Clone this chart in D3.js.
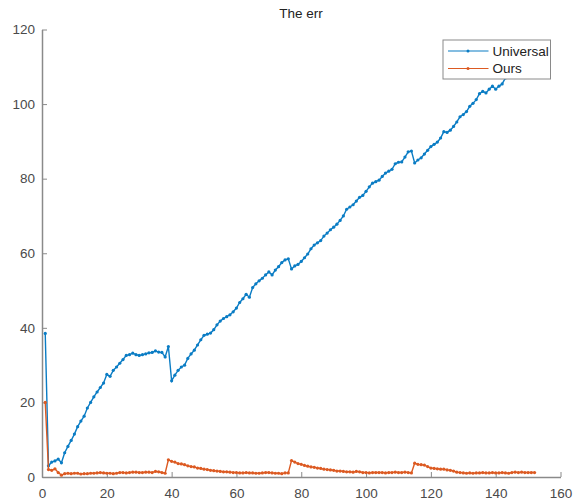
<!DOCTYPE html>
<html>
<head>
  <meta charset="utf-8">
  <title>The err</title>
  <script src="https://cdn.jsdelivr.net/npm/d3@7/dist/d3.min.js"></script>
  <style>
    body { margin: 0; background: #fff; }
    text { font-family: "Liberation Sans", Arial, sans-serif; }
  </style>
</head>
<body>
  <div id="chart"></div>
  <script>
    // values, x = 1..152
    const universal = [
      38.5, 3.0, 4.0, 4.3, 4.8, 3.8, 6.5, 8.2, 9.8, 11.5,
      13.5, 15.0, 16.3, 18.5, 20.0, 21.5, 22.8, 24.0, 25.2, 27.5,
      27.0, 28.6, 29.5, 30.5, 31.5, 32.6, 32.8, 33.2, 32.8, 32.6,
      32.8, 33.0, 33.3, 33.4, 33.8, 33.5, 33.4, 32.2, 35.0, 25.8,
      27.3, 28.6, 29.5, 30.0, 31.8, 33.0, 34.0, 35.4, 36.8, 38.0,
      38.3, 38.6, 39.5, 40.8, 41.8, 42.5, 43.0, 43.5, 44.3, 45.3,
      46.8, 47.8, 49.0, 48.2, 50.8, 51.8, 52.6, 53.3, 54.2, 55.0,
      54.2, 55.5, 56.4, 57.5, 58.2, 58.5, 55.8, 56.6, 57.0, 57.8,
      58.8, 59.8, 61.2, 62.2, 62.8, 63.4, 64.6, 65.4, 66.3, 67.0,
      67.8, 68.8, 70.0, 71.8, 72.4, 73.0, 74.0, 75.0, 75.5, 76.6,
      77.8, 78.8, 79.2, 79.6, 80.6, 81.5, 82.0, 82.5, 84.0, 84.4,
      84.5, 85.8, 87.2, 87.4, 84.2, 85.0, 85.6, 86.6, 87.6, 88.6,
      89.2, 89.8, 90.9, 92.6, 92.4, 93.0, 94.0, 95.2, 96.6, 97.2,
      98.0, 99.4, 100.2, 101.2, 102.8, 103.4, 103.0, 104.0, 104.8, 104.0,
      104.8, 105.4, 107.0, 107.8, 108.5, 109.0, 110.0, 110.8, 111.4, 112.2,
      113.0, 113.6
    ];
    const ours = [
      20.0, 2.0, 1.8, 2.2, 1.2, 0.5, 0.9, 1.0, 0.9, 1.0,
      1.0, 0.8, 0.9, 0.9, 1.0, 1.0, 1.1, 1.2, 1.1, 1.0,
      1.0, 0.9, 1.0, 1.2, 1.2, 1.1, 1.2, 1.3, 1.3, 1.2,
      1.2, 1.3, 1.3, 1.2, 1.5, 1.4, 1.2, 1.0, 4.6, 4.2,
      4.0, 3.6, 3.5, 3.3, 3.0, 2.8, 2.7, 2.4, 2.3, 2.1,
      2.0, 1.8, 1.7, 1.6, 1.5, 1.4, 1.4, 1.3, 1.2, 1.2,
      1.1, 1.1, 1.2, 1.1, 1.1, 1.0, 1.0, 1.1, 1.2, 1.2,
      1.1, 1.0, 1.0, 0.9, 1.1, 1.1, 4.4, 4.0, 3.6, 3.4,
      3.1, 2.9, 2.7, 2.6, 2.4, 2.3, 2.1, 2.0, 1.9, 1.8,
      1.6, 1.6, 1.5, 1.4, 1.4, 1.3, 1.5, 1.4, 1.2, 1.2,
      1.1, 1.2, 1.2, 1.2, 1.2, 1.1, 1.2, 1.2, 1.3, 1.2,
      1.2, 1.3, 1.2, 1.1, 3.7, 3.4, 3.3, 3.2, 2.8, 2.4,
      2.3, 2.2, 2.1, 2.1, 1.9, 1.8, 1.6, 1.3, 1.2, 1.1,
      1.0, 1.1, 1.0, 1.1, 1.1, 1.2, 1.1, 1.1, 1.2, 1.1,
      1.1, 1.2, 1.1, 1.0, 1.2, 1.3, 1.2, 1.3, 1.2, 1.2,
      1.2, 1.2
    ];
    const seriesNames = ['Universal', 'Ours'];
    const xTicks = [0, 20, 40, 60, 80, 100, 120, 140, 160];
    const yTicks = [0, 20, 40, 60, 80, 100, 120];

    const width = 582, height = 501;
    const colors = ['#0a7cc4', '#dc5a22'];

    const svg = d3.select('#chart').append('svg')
      .attr('width', width)
      .attr('height', height);

    const x = d3.scaleLinear().domain([0, 160]).range([42, 560.5]);
    const y = d3.scaleLinear().domain([0, 120]).range([477, 29.5]);

    // title
    svg.append('text')
      .attr('x', 301).attr('y', 18)
      .attr('text-anchor', 'middle')
      .style('font-size', '13.5px')
      .style('fill', '#222')
      .text('The err');

    // axes, ticks inside like matlab
    const xAxis = svg.append('g')
      .attr('transform', 'translate(0,' + y(0) + ')')
      .call(d3.axisBottom(x).tickValues(xTicks).tickSizeInner(-5).tickSizeOuter(0).tickPadding(11));
    const yAxis = svg.append('g')
      .attr('transform', 'translate(' + x(0) + ',0)')
      .call(d3.axisLeft(y).tickValues(yTicks).tickSizeInner(-5).tickSizeOuter(0).tickPadding(7));

    [xAxis, yAxis].forEach(function (a) {
      a.select('.domain').attr('stroke', '#8a8a8a').attr('stroke-width', 1.5);
      a.selectAll('.tick line').attr('stroke', '#8a8a8a');
      a.selectAll('.tick text')
        .style('font-size', '13.5px')
        .style('fill', '#4a4a4a');
    });

    const line = d3.line()
      .x(function (d, i) { return x(i + 1); })
      .y(function (d) { return y(d); });

    [universal, ours].forEach(function (vals, k) {
      const g = svg.append('g');
      g.append('path')
        .datum(vals)
        .attr('d', line)
        .attr('fill', 'none')
        .attr('stroke', colors[k])
        .attr('stroke-width', 1.4);
      g.selectAll('circle')
        .data(vals)
        .enter().append('circle')
        .attr('cx', function (d, i) { return x(i + 1); })
        .attr('cy', function (d) { return y(d); })
        .attr('r', 1.6)
        .attr('fill', colors[k]);
    });

    // legend
    const lg = svg.append('g');
    lg.append('rect')
      .attr('x', 443).attr('y', 40)
      .attr('width', 107.5).attr('height', 39)
      .attr('fill', '#fff')
      .attr('stroke', '#8a8a8a')
      .attr('stroke-width', 1);
    seriesNames.forEach(function (name, k) {
      const ly = 51 + k * 17.5;
      lg.append('line')
        .attr('x1', 448).attr('x2', 488.5)
        .attr('y1', ly).attr('y2', ly)
        .attr('stroke', colors[k])
        .attr('stroke-width', 1.2);
      lg.append('circle')
        .attr('cx', 468).attr('cy', ly).attr('r', 1.5)
        .attr('fill', colors[k]);
      lg.append('text')
        .attr('x', 492.5).attr('y', ly + 4.5)
        .style('font-size', '13.5px')
        .style('fill', '#222')
        .text(name);
    });
  </script>
</body>
</html>
